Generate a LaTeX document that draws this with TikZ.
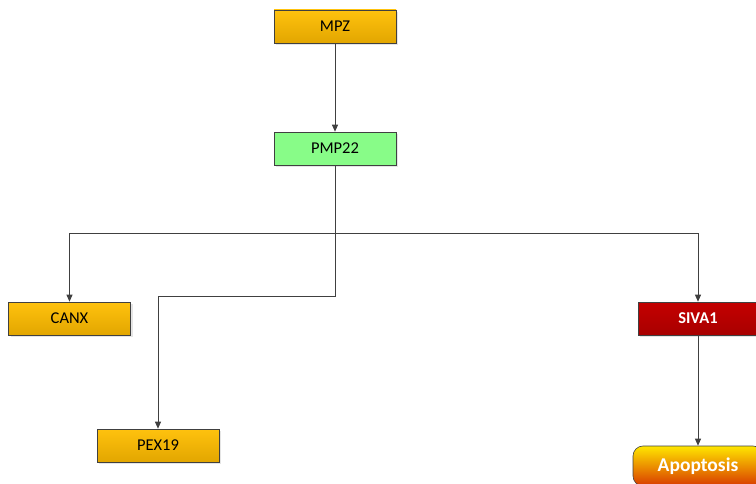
\documentclass[tikz,border=0pt]{standalone}
\usepackage{fontspec}
\setmainfont{Carlito}
\usetikzlibrary{arrows.meta,shadows}
\definecolor{edgegray}{HTML}{404040}
\definecolor{ambertop}{HTML}{FFC20E}
\definecolor{amberbot}{HTML}{E2A600}
\definecolor{greenfill}{HTML}{88FC88}
\definecolor{redtop}{HTML}{C40000}
\definecolor{redbot}{HTML}{A80000}
\definecolor{apotop}{HTML}{FFE600}
\definecolor{apobot}{HTML}{D83A00}
\tikzset{
  gene/.style={draw=edgegray, line width=0.6pt, minimum width=122pt, minimum height=33pt,
    inner sep=0pt, font=\fontsize{16.5}{18}\selectfont, text=black,
    drop shadow={shadow xshift=2pt, shadow yshift=-2pt, fill=black!20, opacity=0.5}},
  ambergene/.style={gene, top color=ambertop, bottom color=amberbot},
  greengene/.style={gene, fill=greenfill},
  redgene/.style={gene, top color=redtop, bottom color=redbot, text=white,
    font=\fontsize{16.5}{18}\selectfont\bfseries},
  outcome/.style={draw=edgegray, line width=0.6pt, rounded corners=10pt,
    minimum width=130pt, minimum height=40pt, inner sep=0pt,
    top color=apotop, bottom color=apobot, text=white,
    font=\fontsize{19.5}{21}\selectfont\bfseries},
  link/.style={draw=edgegray, line width=0.8pt, -{Triangle[length=7pt,width=6pt]}},
}
\begin{document}
\begin{tikzpicture}[x=1pt,y=-1pt]
\useasboundingbox (0,0) rectangle (756,484);
\clip (0,0) rectangle (756,484);
% gene boxes
\node[ambergene] (mpz)   at (335,26.5)  {MPZ};
\node[greengene] (pmp)   at (335,148.5) {PMP22};
\node[ambergene] (canx)  at (69.5,318.5) {CANX};
\node[ambergene] (pex)   at (158,445.5) {PEX19};
\node[redgene, minimum width=120pt] (siva) at (698,318.5) {SIVA1};
\node[outcome] (apo) at (698,466) {Apoptosis};
% branch points below PMP22
\coordinate (hub) at (335,233);
\coordinate (low) at (335,296);
% connectors
\draw[link] (mpz.south) -- (pmp.north);
\draw[link] (pmp.south) -- (hub) -| (canx.north);
\draw[link] (hub) -| (siva.north);
\draw[link] (hub) -- (low) -| (pex.north);
\draw[link] (siva.south) -- (apo.north);
\end{tikzpicture}
\end{document}
